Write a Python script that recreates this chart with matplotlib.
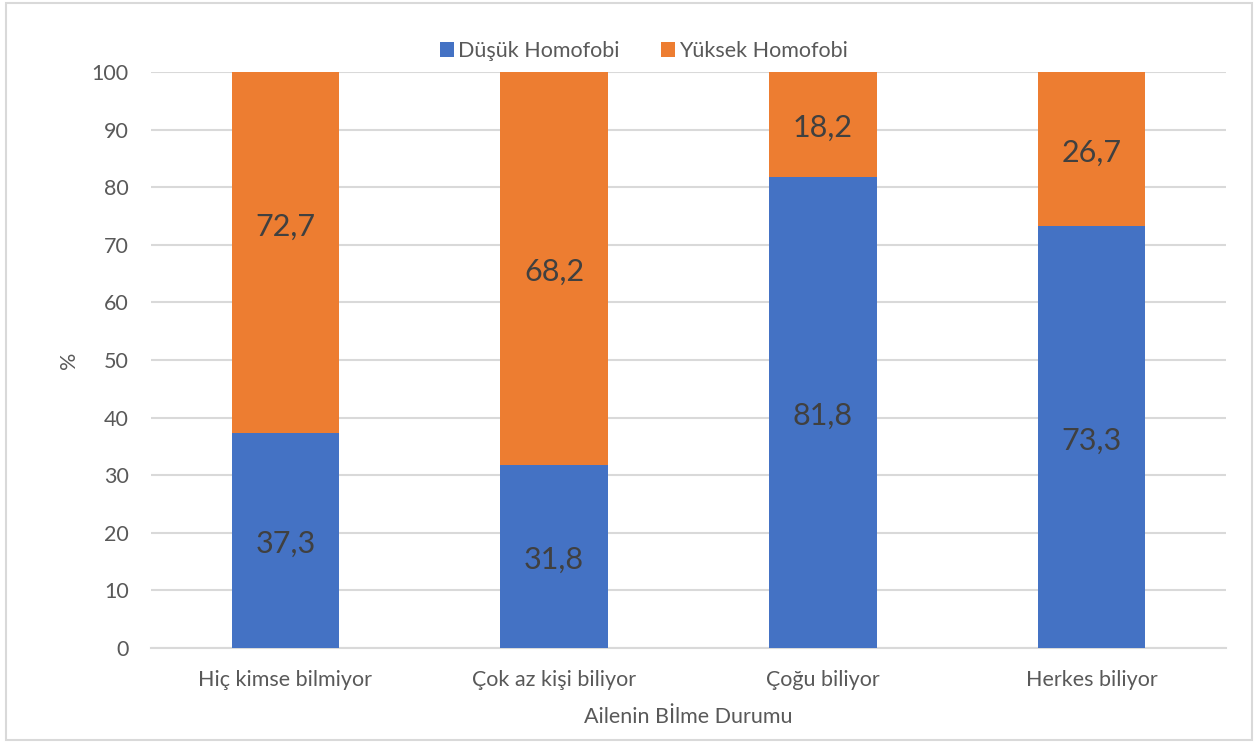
import matplotlib
matplotlib.use("Agg")
import matplotlib.pyplot as plt
from matplotlib.patches import Rectangle

plt.rcParams['font.family'] = ['Lato', 'DejaVu Sans']

categories = ["Hiç kimse bilmiyor", "Çok az kişi biliyor", "Çoğu biliyor", "Herkes biliyor"]
dusuk = [37.3, 31.8, 81.8, 73.3]
yuksek = [72.7, 68.2, 18.2, 26.7]
series_names = ["Düşük Homofobi", "Yüksek Homofobi"]
yticks = list(range(0, 101, 10))

blue = "#4472C4"
orange = "#ED7D31"
text_gray = "#595959"
label_gray = "#404040"
grid_gray = "#D9D9D9"

fig = plt.figure(figsize=(12.59, 7.42), dpi=100)
ax = fig.add_axes([151 / 1259, 1 - 648 / 742, (1226 - 151) / 1259, (648 - 72) / 742])

x = list(range(len(categories)))
w = 0.4
b1 = ax.bar(x, dusuk, width=w, color=blue, label=series_names[0], zorder=3)
b2 = ax.bar(x, yuksek, width=w, bottom=dusuk, color=orange, label=series_names[1], zorder=3)

for i in x:
    ax.text(i, dusuk[i] / 2 - 0.6, f"{dusuk[i]:.1f}".replace(".", ","), ha="center", va="center",
            fontsize=22, color=label_gray, zorder=4)
    ax.text(i, dusuk[i] + yuksek[i] / 2 - 0.6, f"{yuksek[i]:.1f}".replace(".", ","), ha="center",
            va="center", fontsize=22, color=label_gray, zorder=4)

ax.set_xlim(-0.5, len(categories) - 0.5)
ax.set_ylim(0, 100)
ax.set_yticks(yticks)
ax.set_xticks(x)
ax.set_xticklabels(categories)
ax.tick_params(axis="both", length=0, labelsize=15.5, colors=text_gray)
ax.tick_params(axis="y", pad=16)
ax.tick_params(axis="x", pad=16)
ax.yaxis.grid(True, color=grid_gray, linewidth=1.5, zorder=0)
for s in ["left", "right", "top"]:
    ax.spines[s].set_visible(False)
ax.spines["bottom"].set_color(grid_gray)
ax.spines["bottom"].set_linewidth(1.5)
ax.spines["bottom"].set_zorder(0)

ax.set_ylabel("%", fontsize=15.5, color=text_gray, labelpad=9)
ax.set_xlabel("Ailenin Bİlme Durumu", fontsize=15.5, color=text_gray, labelpad=12)

leg = fig.legend(handles=[b1, b2], loc="center", bbox_to_anchor=(644 / 1259, 1 - 51 / 742), ncol=2,
                 frameon=False, fontsize=15.5, handlelength=0.65, handleheight=0.65,
                 handletextpad=0.2, columnspacing=1.9)
for t in leg.get_texts():
    t.set_color(text_gray)

fig.patches.append(Rectangle((6 / 1259, 2 / 742), 1246 / 1259, 737 / 742, transform=fig.transFigure,
                             fill=False, edgecolor="#D9D9D9", linewidth=1.5))

fig.savefig("out.png", dpi=100, facecolor="white")
